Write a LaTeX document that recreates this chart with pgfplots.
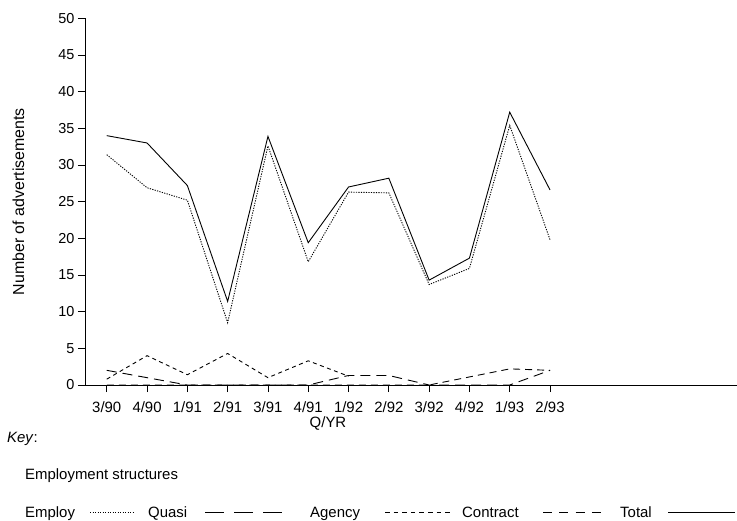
\documentclass[border=0pt]{standalone}
\usepackage{pgfplots}
\pgfplotsset{compat=1.18}
\usepackage{fontspec}
\setmainfont{Liberation Sans}
\begin{document}
\begin{tikzpicture}
\begin{axis}[
  at={(85bp,-385bp)}, anchor=south west,
  scale only axis, width=652bp, height=366.7bp,
  xmin=-0.54, xmax=15.64, ymin=0, ymax=50,
  axis x line=bottom, axis y line=left,
  axis line style={-, line width=0.8bp, black},
  xtick={0,...,11},
  xticklabels={3/90,4/90,1/91,2/91,3/91,4/91,1/92,2/92,3/92,4/92,1/93,2/93},
  ytick={0,5,...,50},
  tick align=outside, major tick length=7bp,
  tick style={line width=0.8bp, black},
  /pgf/number format/assume math mode=true,
  xticklabel style={font=\fontsize{15}{17}\selectfont, anchor=base, yshift=-20bp},
  yticklabel style={font=\fontsize{14.5}{16}\selectfont, anchor=east},
  xlabel={Q/YR}, ylabel={Number of advertisements},
  every axis x label/.style={at={(axis description cs:0.3727,0)}, anchor=base, yshift=-42bp, font=\fontsize{15}{17}\selectfont},
  every axis y label/.style={at={(axis description cs:0,0.5)}, xshift=-61bp, rotate=90, anchor=base, font=\fontsize{16}{18}\selectfont},
  clip=false,
]
% Total
\addplot[black, line width=0.9bp] coordinates {(0,34.0)(1,33.0)(2,27.2)(3,11.4)(4,33.9)(5,19.4)(6,27.0)(7,28.2)(8,14.3)(9,17.3)(10,37.2)(11,26.6)};
% Employ
\addplot[black, line width=0.9bp, dash pattern=on 1.2bp off 1.3bp] coordinates {(0,31.4)(1,26.9)(2,25.2)(3,8.5)(4,32.6)(5,16.8)(6,26.3)(7,26.2)(8,13.7)(9,15.9)(10,35.4)(11,19.8)};
% Quasi
\addplot[black, line width=0.9bp, dash pattern=on 10bp off 6bp] coordinates {(0,2.0)(1,1.0)(2,0)(3,0)(4,0)(5,0)(6,1.3)(7,1.3)(8,0)(9,0)(10,0)(11,2.0)};
% Agency
\addplot[black, line width=0.9bp, dash pattern=on 4bp off 3.5bp] coordinates {(0,0.8)(1,4.0)(2,1.4)(3,4.3)(4,1.0)(5,3.3)(6,1.2)};
% Contract
\addplot[black, line width=0.9bp, dash pattern=on 7bp off 5bp] coordinates {(0,0)(1,0)(2,0)(3,0)(4,0)(5,0)(6,0)(7,0)(8,0)(9,1.1)(10,2.2)(11,2.0)};
\end{axis}
% Key
\begin{scope}[font=\fontsize{15}{18}\selectfont]
\node[anchor=base west, inner sep=0] at (7bp,-442bp) {\textit{Key}:};
\node[anchor=base west, inner sep=0] at (25bp,-479bp) {Employment structures};
\node[anchor=base west, inner sep=0] at (25bp,-517bp) {Employ};
\draw[line width=0.9bp, dash pattern=on 1.2bp off 1.3bp] (90bp,-512bp) -- (133bp,-512bp);
\node[anchor=base west, inner sep=0] at (148bp,-517bp) {Quasi};
\draw[line width=0.9bp, dash pattern=on 19bp off 10bp] (205bp,-512bp) -- (282bp,-512bp);
\node[anchor=base west, inner sep=0] at (310bp,-517bp) {Agency};
\draw[line width=0.9bp, dash pattern=on 4.5bp off 4.1bp] (385bp,-512bp) -- (450bp,-512bp);
\node[anchor=base west, inner sep=0] at (462bp,-517bp) {Contract};
\draw[line width=0.9bp, dash pattern=on 9bp off 7.3bp] (543bp,-512bp) -- (602bp,-512bp);
\node[anchor=base west, inner sep=0] at (620bp,-517bp) {Total};
\draw[line width=0.9bp] (668bp,-512bp) -- (735bp,-512bp);
\end{scope}
\pgfresetboundingbox
\path[use as bounding box] (0,0) rectangle (737bp,-521bp);
\end{tikzpicture}
\end{document}
